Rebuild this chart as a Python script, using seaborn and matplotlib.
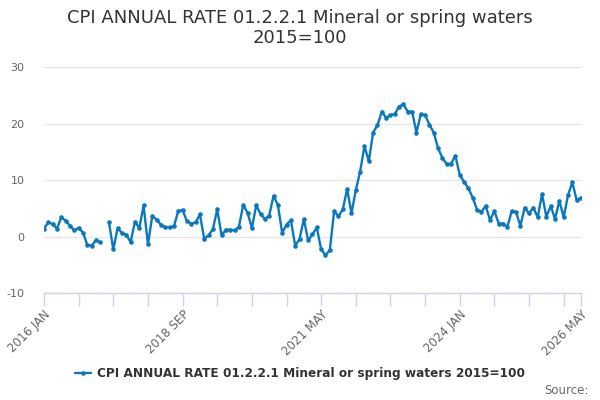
import numpy as np
import pandas as pd
import matplotlib
matplotlib.use("Agg")
import matplotlib.pyplot as plt
import seaborn as sns
from matplotlib.lines import Line2D

# ---- data (monthly, 2016 JAN .. 2026 MAY) ----
start_year = 2016
start_month = 1
values = [
    1.4, 2.5, 2.2, 1.4, 3.4, 2.8, 1.9, 1.1, 1.5, 0.7, -1.5, -1.6, -0.7, -1.0,
    np.nan,
    2.5, -2.3, 1.5, 0.6, 0.3, -1.0, 2.6, 1.5, 5.5, -1.4, 3.6, 3.0, 2.1, 1.6,
    1.6, 1.8, 4.5, 4.7, 2.7, 2.3, 2.5, 3.9, -0.4, 0.2, 1.3, 4.8, 0.2, 1.2,
    1.2, 1.1, 1.7, 5.6, 4.2, 1.5, 5.5, 4.0, 3.1, 3.7, 7.2, 5.6, 0.65, 2.1,
    2.9, -1.6, -0.5, 3.1, -0.7, 0.4, 1.6, -2.3, -3.3, -2.4, 4.5, 3.6, 4.8,
    8.4, 4.1, 8.2, 11.5, 16.0, 13.3, 18.4, 19.7, 22.1, 21.0, 21.5, 21.7,
    23.0, 23.4, 22.1, 22.1, 18.4, 21.6, 21.5, 19.8, 18.4, 15.6, 13.9, 12.8,
    12.9, 14.3, 10.9, 9.7, 8.5, 6.9, 4.7, 4.4, 5.4, 2.9, 4.5, 2.3, 2.3, 1.7,
    4.5, 4.3, 1.9, 5.1, 4.1, 5.1, 3.4, 7.5, 3.5, 5.4, 3.1, 6.3, 3.4, 7.3,
    9.6, 6.4, 6.9,
]
tick_labels = ["2016 JAN", "2018 SEP", "2021 MAY", "2024 JAN", "2026 MAY"]
y_ticks = [-10, 0, 10, 20, 30]
series_name = "CPI ANNUAL RATE 01.2.2.1 Mineral or spring waters 2015=100"
title = "CPI ANNUAL RATE 01.2.2.1 Mineral or spring waters\n2015=100"

MONTHS = ["JAN", "FEB", "MAR", "APR", "MAY", "JUN", "JUL", "AUG", "SEP", "OCT", "NOV", "DEC"]

def label_to_index(lbl):
    y, m = lbl.split()
    return (int(y) - start_year) * 12 + MONTHS.index(m) - (start_month - 1)

n = len(values)
v = np.array(values, dtype=float)
seg = np.cumsum(np.isnan(v))
df = pd.DataFrame({"x": np.arange(n), "v": v, "seg": seg}).dropna()

color = "#0b78be"

sns.set_theme(style="white")
plt.rcParams["font.family"] = ["DejaVu Sans"]

fig = plt.figure(figsize=(6, 4), dpi=100)
ax = fig.add_axes([44 / 600, 1 - 293 / 400, (581 - 44) / 600, (293 - 67) / 400])

sns.lineplot(data=df, x="x", y="v", units="seg", estimator=None, color=color,
             linewidth=1.7, marker="o", markersize=3.3, markeredgewidth=0,
             ax=ax, legend=False)

ax.set_xlim(0, n - 1)
ax.set_ylim(-10, 30)
ax.set_yticks(y_ticks)
ax.set_yticklabels([str(t) for t in y_ticks])
ax.grid(axis="y", color="#e6e6e6", linewidth=1)
ax.set_axisbelow(True)
for s in ["top", "right", "left"]:
    ax.spines[s].set_visible(False)
ax.spines["bottom"].set_color("#ccd6eb")
ax.spines["bottom"].set_linewidth(1)

major = [label_to_index(l) for l in tick_labels]
minor = sorted(set(list(range(0, n, 8)) + [n - 1]))
ax.set_xticks(major)
ax.set_xticklabels(tick_labels, rotation=45, ha="right", va="top",
                   rotation_mode="anchor", color="#666666", fontsize=8.5)
ax.set_xticks(minor, minor=True)
ax.tick_params(axis="x", which="both", length=9, width=1, color="#ccd6eb",
               direction="out", pad=2, bottom=True)
ax.tick_params(axis="y", length=0, labelcolor="#666666", labelsize=8, pad=14)
for t in ax.get_yticklabels():
    t.set_horizontalalignment("right")
ax.set_xlabel("")
ax.set_ylabel("")

fig.text(0.5, 1 - 28 / 400, title, ha="center", va="center", fontsize=13,
         color="#333333", linespacing=1.15)

handle = Line2D([], [], color=color, linewidth=1.7, marker="o", markersize=3.3,
                markeredgewidth=0)
leg = fig.legend([handle], [series_name], loc="center",
                 bbox_to_anchor=(0.5, 1 - 374 / 400), frameon=False,
                 prop={"weight": "bold", "size": 8.7}, handlelength=1.4,
                 handletextpad=0.5)
for t in leg.get_texts():
    t.set_color("#333333")

fig.text(589 / 600, 1 - 390 / 400, "Source:", ha="right", va="center",
         fontsize=8.5, color="#666666")

fig.savefig("out.png", dpi=100)
